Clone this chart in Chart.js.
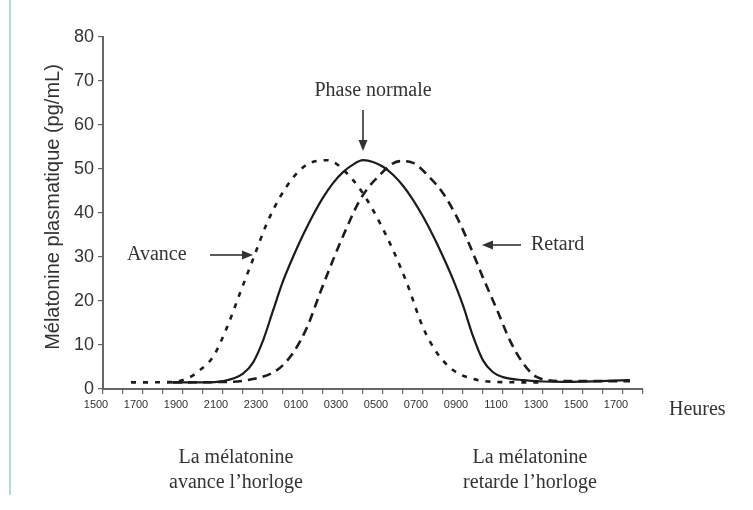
<!DOCTYPE html>
<html>
<head>
<meta charset="utf-8">
<script src="https://cdn.jsdelivr.net/npm/chart.js@4.4.1/dist/chart.umd.min.js"></script>
<style>
  html, body { margin: 0; padding: 0; background: #fff; }
  #wrap { width: 753px; height: 510px; position: relative; }
</style>
</head>
<body>
<div id="wrap"><canvas id="melatonine" width="753" height="510"></canvas></div>
<script>
// x axis: hours since midnight of day 1 (15 = 1500, 25 = 0100 next day ...)
const hourTicks = [15, 17, 19, 21, 23, 25, 27, 29, 31, 33, 35, 37, 39, 41];
const hourLabels = ['1500', '1700', '1900', '2100', '2300', '0100', '0300', '0500', '0700', '0900', '1100', '1300', '1500', '1700'];

const normalHours  = [18.2, 20, 21, 22, 22.5, 23, 23.5, 24, 24.5, 25, 25.5, 26, 26.5, 27, 27.5, 28, 28.5, 29, 29.5, 30, 30.5, 31, 31.5, 32, 32.5, 33, 33.5, 34, 34.5, 35, 36, 37, 38, 41.35];
const normalValues = [1.5, 1.5, 1.8, 3.5, 6, 11, 17.8, 24.5, 30, 35, 39.5, 43.5, 46.8, 49.3, 51, 52, 51.6, 50.5, 48.7, 46.2, 43, 39.2, 34.9, 30.1, 24.9, 19, 12, 6.5, 3.8, 2.7, 2, 1.7, 1.6, 2];

const avanceHours  = [16.4, 18.5, 19.3, 19.85, 20.5, 21.2, 21.85, 22.5, 23.2, 23.85, 24.5, 25.2, 26.2, 27.5, 28.2, 28.85, 29.5, 30.2, 31, 31.7, 32.5, 33.5, 34.7, 37];
const avanceValues = [1.5, 1.6, 2.6, 4.3, 7.3, 14, 21.8, 29.5, 37.7, 43.6, 48, 51, 52, 47.5, 43, 37.7, 31.6, 24, 14, 8.2, 4.3, 2.3, 1.6, 1.5];

const retardHours  = [18.5, 21, 22.2, 23.7, 24.5, 25.2, 25.85, 26.5, 27.2, 27.85, 28.7, 29.85, 30.5, 31.35, 32, 32.7, 33.35, 34, 34.7, 35.35, 36, 36.7, 38, 41.35];
const retardValues = [1.5, 1.6, 2, 4.3, 8.2, 14, 21.8, 29.3, 36.8, 43, 48, 51.8, 51.4, 48, 44.5, 39, 32.5, 25.3, 18, 11, 5.9, 2.7, 1.8, 1.8];

const toPoints = (xs, ys) => xs.map((x, i) => ({ x, y: ys[i] }));

const INK = '#1c1c1c';
const SERIF = "'Liberation Serif', 'Times New Roman', serif";
const SANS = "'Liberation Sans', Arial, sans-serif";

function arrow(ctx, x1, y1, x2, y2){
  const a = Math.atan2(y2 - y1, x2 - x1);
  const len = 11, w = 4.5;
  ctx.beginPath();
  ctx.moveTo(x1, y1);
  ctx.lineTo(x2 - Math.cos(a) * len, y2 - Math.sin(a) * len);
  ctx.stroke();
  ctx.beginPath();
  ctx.moveTo(x2, y2);
  ctx.lineTo(x2 - Math.cos(a) * len - Math.sin(a) * w, y2 - Math.sin(a) * len + Math.cos(a) * w);
  ctx.lineTo(x2 - Math.cos(a) * len + Math.sin(a) * w, y2 - Math.sin(a) * len - Math.cos(a) * w);
  ctx.closePath();
  ctx.fill();
}

const annotations = {
  id: 'annotations',
  beforeDraw(chart){
    const ctx = chart.ctx;
    ctx.save();
    ctx.fillStyle = '#fff';
    ctx.fillRect(0, 0, chart.width, chart.height);
    // light page border on the left
    ctx.strokeStyle = '#b5dcd8';
    ctx.lineWidth = 2;
    ctx.beginPath();
    ctx.moveTo(10, 0);
    ctx.lineTo(10, 495);
    ctx.stroke();
    ctx.restore();
  },
  afterDraw(chart){
    const ctx = chart.ctx;
    ctx.save();
    ctx.fillStyle = '#333';
    ctx.strokeStyle = '#333';
    ctx.lineWidth = 1.6;

    // y axis title
    ctx.save();
    ctx.translate(53, 207);
    ctx.rotate(-Math.PI / 2);
    ctx.font = '20px ' + SANS;
    ctx.textAlign = 'center';
    ctx.textBaseline = 'middle';
    ctx.fillText('Mélatonine plasmatique (pg/mL)', 0, 0);
    ctx.restore();

    ctx.font = '20px ' + SERIF;
    ctx.textBaseline = 'middle';

    ctx.textAlign = 'center';
    ctx.fillText('Phase normale', 373, 91);
    arrow(ctx, 363, 110, 363, 151);

    ctx.textAlign = 'left';
    ctx.fillText('Avance', 127, 255);
    arrow(ctx, 210, 255, 253, 255);

    ctx.fillText('Retard', 531, 245);
    arrow(ctx, 521, 245, 482, 245);

    ctx.fillText('Heures', 669, 410);

    ctx.textAlign = 'center';
    ctx.fillText('La mélatonine', 236, 458);
    ctx.fillText('avance l\u2019horloge', 236, 483);
    ctx.fillText('La mélatonine', 530, 458);
    ctx.fillText('retarde l\u2019horloge', 530, 483);
    ctx.restore();
  }
};

new Chart(document.getElementById('melatonine'), {
  type: 'line',
  data: {
    datasets: [
      {
        label: 'Phase normale',
        data: toPoints(normalHours, normalValues),
        borderColor: INK,
        borderWidth: 2.2,
        pointRadius: 0,
        cubicInterpolationMode: 'monotone'
      },
      {
        label: 'Avance',
        data: toPoints(avanceHours, avanceValues),
        borderColor: INK,
        borderWidth: 2.6,
        borderDash: [5, 7],
        pointRadius: 0,
        cubicInterpolationMode: 'monotone'
      },
      {
        label: 'Retard',
        data: toPoints(retardHours, retardValues),
        borderColor: INK,
        borderWidth: 2.6,
        borderDash: [9, 6],
        pointRadius: 0,
        cubicInterpolationMode: 'monotone'
      }
    ]
  },
  options: {
    responsive: false,
    animation: false,
    layout: { padding: { left: 10, right: 110, top: 37, bottom: 100 } },
    plugins: { legend: { display: false }, tooltip: { enabled: false } },
    scales: {
      x: {
        type: 'linear',
        min: 15,
        max: 42,
        afterFit: s => { s.height = 21; },
        afterBuildTicks: s => {
          s.ticks = [];
          for (let h = 15; h <= 42; h++) s.ticks.push({ value: h });
        },
        ticks: {
          autoSkip: false,
          maxRotation: 0,
          labelOffset: -7,
          padding: 4,
          color: '#333',
          font: { family: "'Liberation Sans Narrow', 'Arial Narrow', " + SANS, size: 11 },
          callback: v => {
            const i = hourTicks.indexOf(v);
            return i >= 0 ? hourLabels[i] : '';
          }
        },
        grid: { drawOnChartArea: false, drawTicks: true, tickLength: 5, color: '#666', lineWidth: 1.2 },
        border: { color: '#666', width: 2 }
      },
      y: {
        min: 0,
        max: 80,
        afterFit: s => { s.width = 93; },
        ticks: {
          stepSize: 10,
          padding: 4,
          color: '#333',
          font: { family: SANS, size: 18 }
        },
        grid: { drawOnChartArea: false, drawTicks: true, tickLength: 5, color: '#666', lineWidth: 1.2 },
        border: { color: '#666', width: 2 }
      }
    }
  },
  plugins: [annotations]
});
</script>
</body>
</html>
